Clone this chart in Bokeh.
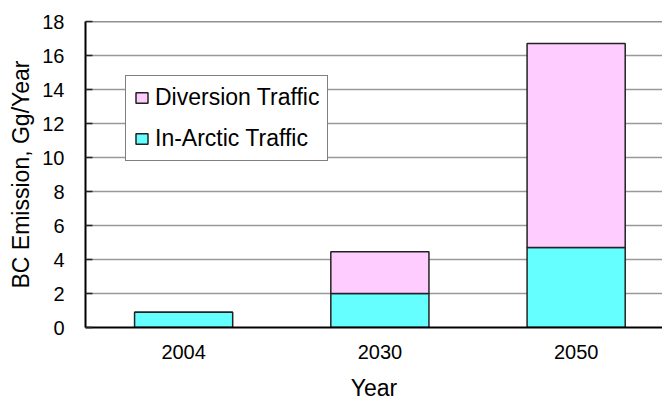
from bokeh.plotting import figure
from bokeh.models import (ColumnDataSource, Range1d, FixedTicker, Legend, LegendItem, Span)
from bokeh.embed import file_html
from bokeh.resources import INLINE

# ---- data ----
years = ["2004", "2030", "2050"]
in_arctic = [0.9, 2.0, 4.7]
diversion = [0.0, 2.45, 12.0]
y_ticks = [0, 2, 4, 6, 8, 10, 12, 14, 16, 18]

xpos = [i + 0.5 for i in range(len(years))]
src = ColumnDataSource(dict(x=xpos, year=years, in_arctic=in_arctic, diversion=diversion))

FONT = "Liberation Sans"

p = figure(width=662, height=403, output_backend="svg", toolbar_location=None,
           x_range=Range1d(0, 2.94), y_range=Range1d(0, 18),
           min_border_left=85, min_border_right=0, min_border_top=21, min_border_bottom=75)

rs = p.vbar_stack(["in_arctic", "diversion"], x="x", width=0.5, source=src,
                  fill_color=["#66FFFF", "#FFCCFF"], line_color="#222222", line_width=1.5)

# axes
p.yaxis.ticker = FixedTicker(ticks=y_ticks)
p.xaxis.ticker = FixedTicker(ticks=xpos)
p.xaxis.major_label_overrides = {x: y for x, y in zip(xpos, years)}
p.xaxis.major_tick_line_color = None
p.xaxis.minor_tick_line_color = None
p.yaxis.minor_tick_line_color = None
p.yaxis.major_tick_in = 7
p.yaxis.major_tick_out = 0
p.yaxis.major_tick_line_color = "#222222"
p.yaxis.major_tick_line_width = 1.5

for ax in (p.xaxis[0], p.yaxis[0]):
    ax.axis_line_color = "black"
    ax.axis_line_width = 2
    ax.major_label_text_font = FONT
    ax.major_label_text_font_size = "20px"
    ax.major_label_text_color = "black"
    ax.axis_label_text_font = FONT
    ax.axis_label_text_font_size = "23px"
    ax.axis_label_text_font_style = "normal"
    ax.axis_label_text_color = "black"

p.xaxis.axis_label = "Year"
p.yaxis.axis_label = "BC Emission, Gg/Year"
p.xaxis.major_label_standoff = 11
p.xaxis.axis_label_standoff = 13
p.yaxis.major_label_standoff = 21
p.yaxis.axis_label_standoff = 5

p.xgrid.grid_line_color = None
p.ygrid.ticker = FixedTicker(ticks=y_ticks[1:-1])
p.ygrid.grid_line_color = "#999999"
p.ygrid.grid_line_width = 1.5

# top border only (plot area continues past the right edge)
p.outline_line_color = None
p.add_layout(Span(location=y_ticks[-1], dimension="width", line_color="#222222", line_width=1.5))
p.background_fill_color = "white"
p.border_fill_color = "white"

legend = Legend(items=[LegendItem(label="Diversion Traffic", renderers=[rs[1]]),
                       LegendItem(label="In-Arctic Traffic", renderers=[rs[0]])],
                location=(40, 166))
legend.label_text_font = FONT
legend.label_text_font_size = "23px"
legend.label_text_color = "black"
legend.glyph_width = 15
legend.glyph_height = 13
legend.label_height = 20
legend.spacing = 14
legend.padding = 8
legend.margin = 0
legend.label_standoff = 6
legend.border_line_color = "black"
legend.border_line_width = 1
legend.background_fill_alpha = 1
p.add_layout(legend, "center")

open("out.html", "w").write(file_html(p, INLINE))
